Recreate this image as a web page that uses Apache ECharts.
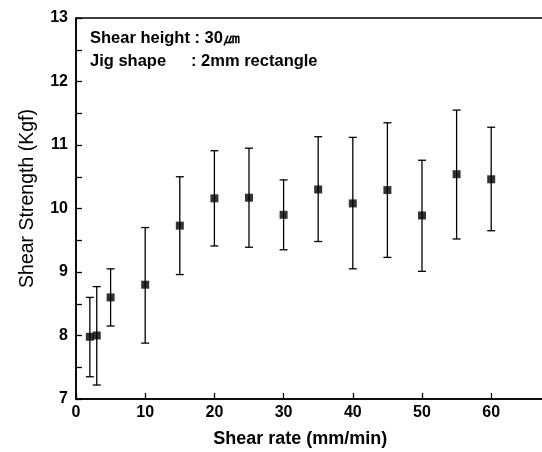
<!DOCTYPE html>
<html>
<head>
<meta charset="utf-8">
<script src="https://cdn.jsdelivr.net/npm/echarts@6/dist/echarts.min.js"></script>
<style>html,body{margin:0;padding:0;background:#fff}#c{width:542px;height:452px}</style>
</head>
<body>
<div id="c"></div>
<script>
const shearRate = [2, 3, 5, 10, 15, 20, 25, 30, 35, 40, 45, 50, 55, 60];
const strength  = [7.98, 8.00, 8.60, 8.80, 9.73, 10.16, 10.17, 9.90, 10.30, 10.08, 10.29, 9.89, 10.54, 10.46];
const errTop    = [8.60, 8.77, 9.05, 9.70, 10.50, 10.91, 10.95, 10.45, 11.13, 11.12, 11.35, 10.76, 11.55, 11.28];
const errBottom = [7.35, 7.22, 8.15, 7.88, 8.96, 9.41, 9.39, 9.35, 9.48, 9.05, 9.23, 9.01, 9.52, 9.65];
const xTicks = [0, 10, 20, 30, 40, 50, 60];
const yTicks = [7, 8, 9, 10, 11, 12, 13];
const noteLine1 = 'Shear height : 30㎛';
const noteLabel2 = 'Jig shape';
const noteValue2 = ': 2mm rectangle';

const font = 'Arial, "Liberation Sans", sans-serif';
const chart = echarts.init(document.getElementById('c'), null, {renderer: 'canvas'});
const pts = shearRate.map((x, i) => [x, strength[i]]);
const errs = shearRate.map((x, i) => [x, errBottom[i], errTop[i]]);

const noteFont = 'bold 16.5px ' + font;
const graphics = [
  {type: 'text', left: 90, top: 30, style: {text: noteLine1, font: noteFont, fill: '#000'}},
  {type: 'text', left: 90, top: 53, style: {text: noteLabel2, font: noteFont, fill: '#000'}},
  {type: 'text', left: 191, top: 53, style: {text: noteValue2, font: noteFont, fill: '#000'}}
];

chart.setOption({
  animation: false,
  backgroundColor: '#fff',
  grid: {left: 76, top: 18, width: 484.4, bottom: 53, show: true, borderColor: '#000', borderWidth: 1.5,
    backgroundColor: 'transparent', outerBoundsMode: 'none', containLabel: false},
  xAxis: {
    type: 'value', min: 0, max: 70, interval: 10,
    name: 'Shear rate (mm/min)', nameLocation: 'middle', nameGap: 31,
    nameTextStyle: {fontFamily: font, fontWeight: 'bold', fontSize: 18, color: '#000', padding: [0, 36, 0, 0]},
    axisLine: {lineStyle: {color: '#000', width: 1.5}},
    axisTick: {inside: true, length: 6, lineStyle: {color: '#000', width: 1.3}},
    axisLabel: {fontFamily: font, fontWeight: 'bold', fontSize: 16, color: '#000', margin: 6,
      formatter: v => xTicks.includes(v) ? String(v) : ''},
    splitLine: {show: false}
  },
  yAxis: {
    type: 'value', min: 7, max: 13, interval: 1,
    name: 'Shear Strength (Kgf)', nameLocation: 'middle', nameGap: 38,
    nameTextStyle: {fontFamily: font, fontWeight: 'normal', fontSize: 19.5, color: '#000', padding: [0, 0, 0, 20]},
    axisLine: {show: true, lineStyle: {color: '#000', width: 1.5}},
    axisTick: {inside: true, length: 6, lineStyle: {color: '#000', width: 1.3}},
    minorTick: {show: true, splitNumber: 2, length: 6, lineStyle: {color: '#000', width: 1.3}},
    axisLabel: {fontFamily: font, fontWeight: 'bold', fontSize: 16, color: '#000', margin: 8,
      formatter: v => yTicks.includes(v) ? String(v) : ''},
    splitLine: {show: false}
  },
  graphic: graphics,
  series: [
    {
      type: 'custom',
      data: errs,
      z: 2,
      renderItem: function (params, api) {
        const x = api.value(0);
        const lo = api.coord([x, api.value(1)]);
        const hi = api.coord([x, api.value(2)]);
        const w = 4;
        const st = {stroke: '#000', lineWidth: 1.3};
        return {
          type: 'group',
          children: [
            {type: 'line', shape: {x1: lo[0], y1: lo[1], x2: hi[0], y2: hi[1]}, style: st},
            {type: 'line', shape: {x1: lo[0] - w, y1: lo[1], x2: lo[0] + w, y2: lo[1]}, style: st},
            {type: 'line', shape: {x1: hi[0] - w, y1: hi[1], x2: hi[0] + w, y2: hi[1]}, style: st}
          ]
        };
      }
    },
    {
      type: 'scatter',
      data: pts,
      symbol: 'rect',
      symbolSize: 8,
      z: 3,
      itemStyle: {color: '#000'}
    }
  ]
});
</script>
</body>
</html>
